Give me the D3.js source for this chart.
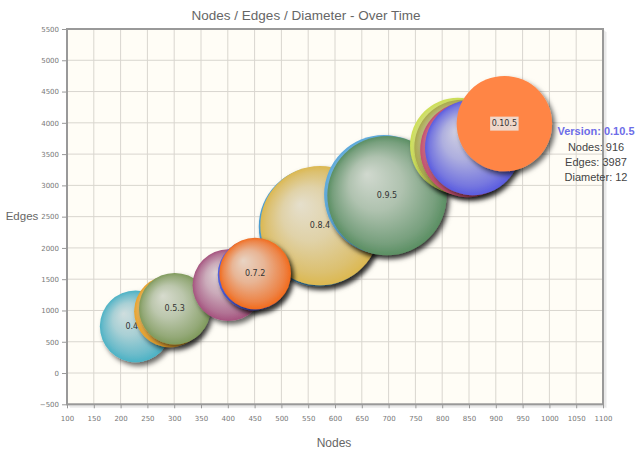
<!DOCTYPE html>
<html>
<head>
<meta charset="utf-8">
<script src="https://cdn.jsdelivr.net/npm/d3@7"></script>
<style>
  html, body { margin: 0; padding: 0; background: #ffffff; }
  svg { display: block; }
</style>
</head>
<body>
<svg id="chart" width="637" height="451"></svg>
<script>
// Release history: graph size per version
const versions  = ["0.4.1", "0.5.0", "0.5.3", "0.6.0", "0.7.0", "0.7.2", "0.8.0", "0.8.4",
                   "0.9.0", "0.9.5", "0.10.0", "0.10.1", "0.10.2", "0.10.3", "0.10.5"];
const nodes     = [228, 292, 301, 401, 448, 451, 569, 572, 691, 697, 829, 837, 848, 857, 916];
const edges     = [746, 985, 1029, 1405, 1572, 1592, 2340, 2357, 2853, 2837, 3637, 3605, 3573, 3605, 3987];
const diameters = [9, 9, 9, 9, 9, 9, 15, 15, 15, 15, 12, 12, 12, 12, 12];
const palette   = ["#4bb2c5", "#eaa228", "#7f9a5c", "#a5527e", "#4b5de4", "#f26b1d", "#4a9fd5", "#dcb850",
                   "#5aa9dc", "#5b8f63", "#cddf54", "#aaa94c", "#c54d6e", "#5a5ce0", "#ff5800"];
// releases whose name is printed on the bubble
const labelled  = ["0.4.1", "0.5.3", "0.7.2", "0.8.4", "0.9.5", "0.10.5"];
const xTicks = d3.range(100, 1101, 50);
const yTicks = d3.range(-500, 5501, 500);
const activeVersion = "0.10.5";

const plot = { left: 67, top: 29, right: 603, bottom: 404.3 };

const svg = d3.select("#chart");
const defs = svg.append("defs");

const x = d3.scaleLinear().domain([100, 1100]).range([plot.left, plot.right]);
const y = d3.scaleLinear().domain([-500, 5500]).range([plot.bottom, plot.top]);
const r = d3.scaleLinear().domain([0, 12]).range([0, 47.7]);

// bubble drop shadow
const sh = defs.append("filter").attr("id", "bshadow")
  .attr("x", "-30%").attr("y", "-30%").attr("width", "170%").attr("height", "170%");
sh.append("feDropShadow").attr("dx", 3).attr("dy", 3.5).attr("stdDeviation", 2.6)
  .attr("flood-color", "#000").attr("flood-opacity", 0.6);

// plot background
svg.append("rect")
  .attr("x", plot.left).attr("y", plot.top)
  .attr("width", plot.right - plot.left).attr("height", plot.bottom - plot.top)
  .attr("fill", "#fffdf6");

// grid
const grid = svg.append("g");
grid.selectAll("line.gx").data(xTicks).join("line")
  .attr("x1", d => x(d)).attr("x2", d => x(d))
  .attr("y1", plot.top).attr("y2", plot.bottom)
  .attr("stroke", "#d9d6cf").attr("stroke-width", 1);
grid.selectAll("line.gy").data(yTicks).join("line")
  .attr("x1", plot.left).attr("x2", plot.right)
  .attr("y1", d => y(d)).attr("y2", d => y(d))
  .attr("stroke", "#d9d6cf").attr("stroke-width", 1);

// border with a soft shadow
const border = svg.append("g");
[3, 2, 1].forEach(o => {
  border.append("path")
    .attr("d", `M${plot.left + o},${plot.bottom + o}H${plot.right + o}V${plot.top + o}`)
    .attr("fill", "none").attr("stroke", "#000").attr("stroke-opacity", 0.06).attr("stroke-width", 1.5);
});
border.append("rect")
  .attr("x", plot.left).attr("y", plot.top)
  .attr("width", plot.right - plot.left).attr("height", plot.bottom - plot.top)
  .attr("fill", "none").attr("stroke", "#999").attr("stroke-width", 2);

// axes
const axisFont = "'DejaVu Sans', Verdana, sans-serif";
const gx = svg.append("g").attr("transform", `translate(0,${plot.bottom})`)
  .call(d3.axisBottom(x).tickValues(xTicks).tickSize(4).tickPadding(8).tickFormat(d3.format("d")));
const gy = svg.append("g").attr("transform", `translate(${plot.left},0)`)
  .call(d3.axisLeft(y).tickValues(yTicks).tickSize(5).tickPadding(3).tickFormat(d3.format("d")));
[gx, gy].forEach(g => {
  g.select(".domain").remove();
  g.selectAll(".tick line").attr("stroke", "#999");
  g.selectAll(".tick text").attr("fill", "#777").style("font-family", axisFont).style("font-size", "7px");
});

// bubbles: larger ones underneath, release order otherwise
const data = versions.map((v, i) => ({
  version: v, nodes: nodes[i], edges: edges[i], diameter: diameters[i], color: palette[i], idx: i
}));
const order = data.slice().sort((a, b) => d3.descending(a.diameter, b.diameter) || d3.ascending(a.idx, b.idx));

const mix = (c, t, k) => d3.interpolateRgb(c, t)(k);
data.forEach(d => {
  const g = defs.append("radialGradient").attr("id", "grad" + d.idx)
    .attr("cx", "50%").attr("cy", "50%").attr("r", "50%").attr("fx", "33%").attr("fy", "32%");
  g.append("stop").attr("offset", "0%").attr("stop-color", mix(d.color, "#e6e6e2", 0.85));
  g.append("stop").attr("offset", "45%").attr("stop-color", mix(d.color, "#e2e2de", 0.62));
  g.append("stop").attr("offset", "85%").attr("stop-color", mix(d.color, "#dddddd", 0.22));
  g.append("stop").attr("offset", "100%").attr("stop-color", d.color);
});

const bubbles = svg.append("g");
const groups = bubbles.selectAll("g.bubble").data(order).join("g").attr("class", "bubble");

groups.append("circle")
  .attr("cx", d => x(d.nodes)).attr("cy", d => y(d.edges)).attr("r", d => r(d.diameter))
  .attr("fill", d => d.version === activeVersion ? mix(d.color, "#ffffff", 0.27) : `url(#grad${d.idx})`)
  .attr("filter", "url(#bshadow)");

const labelFont = "'DejaVu Sans', Verdana, sans-serif";
groups.filter(d => labelled.includes(d.version)).each(function (d) {
  const g = d3.select(this);
  const t = g.append("text")
    .attr("x", x(d.nodes)).attr("y", y(d.edges))
    .attr("text-anchor", "middle").attr("dominant-baseline", "central")
    .style("font-family", labelFont).style("font-size", "8px")
    .attr("fill", "#333").text(d.version);
  if (d.version === activeVersion) {
    const bb = t.node().getBBox();
    g.insert("rect", "text")
      .attr("x", bb.x - 1.5).attr("y", bb.y - 2.5)
      .attr("width", bb.width + 3).attr("height", bb.height + 5)
      .attr("fill", "#ebebeb").attr("fill-opacity", 0.8);
  }
});

// titles
const textFont = "'Liberation Sans', Arial, sans-serif";
svg.append("text").attr("x", 306).attr("y", 20).attr("text-anchor", "middle")
  .style("font-family", textFont).style("font-size", "13.5px").attr("fill", "#666")
  .text("Nodes / Edges / Diameter - Over Time");
svg.append("text").attr("x", 22).attr("y", 220).attr("text-anchor", "middle")
  .style("font-family", textFont).style("font-size", "11.5px").attr("fill", "#666")
  .text("Edges");
svg.append("text").attr("x", 334).attr("y", 447).attr("text-anchor", "middle")
  .style("font-family", textFont).style("font-size", "12px").attr("fill", "#666")
  .text("Nodes");

// hover readout for the active release
const active = data.find(d => d.version === activeVersion);
const tip = svg.append("g").attr("transform", "translate(596,0)")
  .style("font-family", textFont).style("font-size", "11px").attr("text-anchor", "middle");
tip.append("text").attr("y", 135).attr("fill", "#6d6de8").style("font-weight", "bold")
  .text("Version: " + active.version);
tip.append("text").attr("y", 151).attr("fill", "#444").text("Nodes: " + active.nodes);
tip.append("text").attr("y", 166).attr("fill", "#444").text("Edges: " + active.edges);
tip.append("text").attr("y", 181).attr("fill", "#444").text("Diameter: " + active.diameter);
</script>
</body>
</html>
